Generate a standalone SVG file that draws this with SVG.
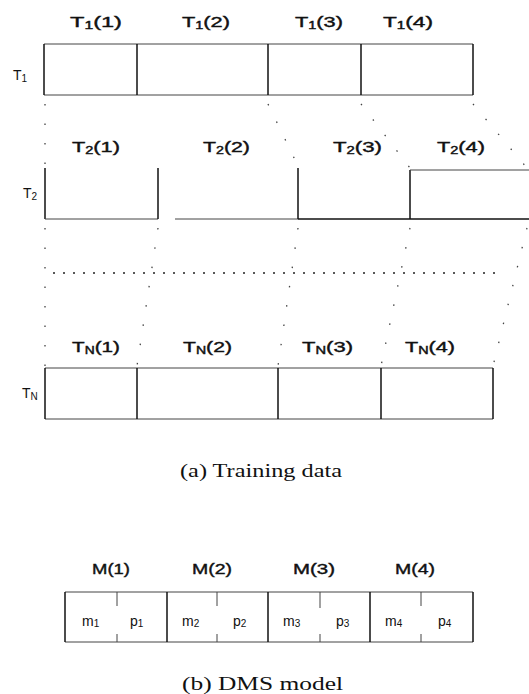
<svg xmlns="http://www.w3.org/2000/svg" width="529" height="694" viewBox="0 0 529 694">
<style>
.bg{fill:#fff}
.v{stroke:#111;stroke-width:1.5;fill:none}
.h{stroke:#444;stroke-width:1;fill:none}
.dot{stroke:#444;stroke-width:1.3;fill:none;stroke-dasharray:1.5 18}
.hdot{stroke:#222;stroke-width:1.3;fill:none;stroke-dasharray:2 8}
.lbl{font-family:"Liberation Sans",Arial,sans-serif;font-size:15px;fill:#111;stroke:#111;stroke-width:0.4}
.sub{font-size:10px}
.row{font-family:"Liberation Sans",Arial,sans-serif;font-size:14px;fill:#111}
.cap{font-family:"Liberation Serif","Times New Roman",serif;font-size:19px;fill:#111}
.ml{font-family:"Liberation Sans",Arial,sans-serif;font-size:14px;fill:#111}
</style>
<rect class="bg" x="0" y="0" width="529" height="694"/>

<g id="connectors">
  <line class="dot" x1="45" y1="104" x2="45" y2="166"/>
  <line class="dot" x1="268" y1="104" x2="298" y2="166"/>
  <line class="dot" x1="361" y1="104" x2="410" y2="168"/>
  <line class="dot" x1="473" y1="104" x2="527" y2="168"/>
  <line class="dot" x1="45" y1="228" x2="45" y2="366"/>
  <line class="dot" x1="158" y1="228" x2="137" y2="366"/>
  <line class="dot" x1="298" y1="228" x2="278" y2="366"/>
  <line class="dot" x1="410" y1="228" x2="381" y2="366"/>
  <line class="dot" x1="527" y1="228" x2="493" y2="366"/>
  <line class="hdot" x1="53" y1="273" x2="503" y2="273"/>
</g>

<g id="row-T1">
  <text class="row" x="13" y="80">T<tspan class="sub" dy="2">1</tspan></text>
  <line class="h" x1="44" y1="44" x2="473" y2="44"/>
  <line class="h" x1="44" y1="95" x2="473" y2="95"/>
  <line class="v" x1="44" y1="44" x2="44" y2="95"/>
  <line class="v" x1="137" y1="44" x2="137" y2="95"/>
  <line class="v" x1="268" y1="44" x2="268" y2="95"/>
  <line class="v" x1="361" y1="44" x2="361" y2="95"/>
  <line class="v" x1="473" y1="44" x2="473" y2="95"/>
  <text class="lbl" x="70" y="27" textLength="52" lengthAdjust="spacingAndGlyphs">T<tspan class="sub" dy="2">1</tspan><tspan dy="-2">(1)</tspan></text>
  <text class="lbl" x="182" y="27" textLength="48" lengthAdjust="spacingAndGlyphs">T<tspan class="sub" dy="2">1</tspan><tspan dy="-2">(2)</tspan></text>
  <text class="lbl" x="295" y="27" textLength="48" lengthAdjust="spacingAndGlyphs">T<tspan class="sub" dy="2">1</tspan><tspan dy="-2">(3)</tspan></text>
  <text class="lbl" x="383" y="27" textLength="50" lengthAdjust="spacingAndGlyphs">T<tspan class="sub" dy="2">1</tspan><tspan dy="-2">(4)</tspan></text>
</g>

<g id="row-T2">
  <text class="row" x="23" y="198">T<tspan class="sub" dy="2">2</tspan></text>
  <line class="v" x1="45" y1="168" x2="45" y2="219"/>
  <line class="h" x1="45" y1="219" x2="158" y2="219"/>
  <line class="v" x1="158" y1="168" x2="158" y2="219"/>
  <line class="h" x1="175" y1="219" x2="298" y2="219"/>
  <line class="v" x1="298" y1="168" x2="298" y2="219"/>
  <line class="v" x1="298" y1="219" x2="529" y2="219"/>
  <line class="v" x1="410" y1="170" x2="410" y2="219"/>
  <line class="h" x1="410" y1="170" x2="529" y2="170"/>
  <text class="lbl" x="72" y="152" textLength="48" lengthAdjust="spacingAndGlyphs">T<tspan class="sub" dy="2">2</tspan><tspan dy="-2">(1)</tspan></text>
  <text class="lbl" x="203" y="152" textLength="47" lengthAdjust="spacingAndGlyphs">T<tspan class="sub" dy="2">2</tspan><tspan dy="-2">(2)</tspan></text>
  <text class="lbl" x="333" y="152" textLength="49" lengthAdjust="spacingAndGlyphs">T<tspan class="sub" dy="2">2</tspan><tspan dy="-2">(3)</tspan></text>
  <text class="lbl" x="437" y="152" textLength="48" lengthAdjust="spacingAndGlyphs">T<tspan class="sub" dy="2">2</tspan><tspan dy="-2">(4)</tspan></text>
</g>

<g id="row-TN">
  <text class="row" x="22" y="398">T<tspan class="sub" dy="2">N</tspan></text>
  <line class="h" x1="45" y1="368" x2="493" y2="368"/>
  <line class="h" x1="45" y1="419" x2="493" y2="419"/>
  <line class="v" x1="45" y1="368" x2="45" y2="419"/>
  <line class="v" x1="137" y1="368" x2="137" y2="419"/>
  <line class="v" x1="278" y1="368" x2="278" y2="419"/>
  <line class="v" x1="381" y1="368" x2="381" y2="419"/>
  <line class="v" x1="493" y1="368" x2="493" y2="419"/>
  <text class="lbl" x="72" y="352" textLength="48" lengthAdjust="spacingAndGlyphs">T<tspan class="sub" dy="2">N</tspan><tspan dy="-2">(1)</tspan></text>
  <text class="lbl" x="183" y="352" textLength="49" lengthAdjust="spacingAndGlyphs">T<tspan class="sub" dy="2">N</tspan><tspan dy="-2">(2)</tspan></text>
  <text class="lbl" x="302" y="352" textLength="51" lengthAdjust="spacingAndGlyphs">T<tspan class="sub" dy="2">N</tspan><tspan dy="-2">(3)</tspan></text>
  <text class="lbl" x="405" y="352" textLength="50" lengthAdjust="spacingAndGlyphs">T<tspan class="sub" dy="2">N</tspan><tspan dy="-2">(4)</tspan></text>
</g>

<text id="caption-a" class="cap" x="180" y="477" textLength="162" lengthAdjust="spacingAndGlyphs">(a) Training data</text>

<g id="dms-model">
  <line class="h" x1="65" y1="592" x2="473" y2="592"/>
  <line class="h" x1="65" y1="642" x2="473" y2="642"/>
  <line class="v" x1="65" y1="592" x2="65" y2="642"/>
  <line class="v" x1="167" y1="592" x2="167" y2="642"/>
  <line class="v" x1="268" y1="592" x2="268" y2="642"/>
  <line class="v" x1="370" y1="592" x2="370" y2="642"/>
  <line class="v" x1="473" y1="592" x2="473" y2="642"/>
  <g class="h">
    <line x1="117" y1="592" x2="117" y2="606"/><line x1="117" y1="634" x2="117" y2="642"/>
    <line x1="217" y1="592" x2="217" y2="606"/><line x1="217" y1="634" x2="217" y2="642"/>
    <line x1="320" y1="592" x2="320" y2="608"/><line x1="320" y1="634" x2="320" y2="642"/>
    <line x1="421" y1="592" x2="421" y2="606"/><line x1="421" y1="634" x2="421" y2="642"/>
  </g>
  <text class="lbl" x="92" y="574" textLength="38" lengthAdjust="spacingAndGlyphs">M(1)</text>
  <text class="lbl" x="192" y="574" textLength="40" lengthAdjust="spacingAndGlyphs">M(2)</text>
  <text class="lbl" x="293" y="574" textLength="42" lengthAdjust="spacingAndGlyphs">M(3)</text>
  <text class="lbl" x="395" y="574" textLength="40" lengthAdjust="spacingAndGlyphs">M(4)</text>
  <text class="ml" x="82" y="626">m<tspan class="sub" dy="1">1</tspan></text>
  <text class="ml" x="130" y="626">p<tspan class="sub" dy="1">1</tspan></text>
  <text class="ml" x="182" y="626">m<tspan class="sub" dy="1">2</tspan></text>
  <text class="ml" x="233" y="626">p<tspan class="sub" dy="1">2</tspan></text>
  <text class="ml" x="283" y="626">m<tspan class="sub" dy="1">3</tspan></text>
  <text class="ml" x="336" y="626">p<tspan class="sub" dy="1">3</tspan></text>
  <text class="ml" x="385" y="626">m<tspan class="sub" dy="1">4</tspan></text>
  <text class="ml" x="438" y="626">p<tspan class="sub" dy="1">4</tspan></text>
</g>

<text id="caption-b" class="cap" x="182" y="690" textLength="161" lengthAdjust="spacingAndGlyphs">(b) DMS model</text>
</svg>
